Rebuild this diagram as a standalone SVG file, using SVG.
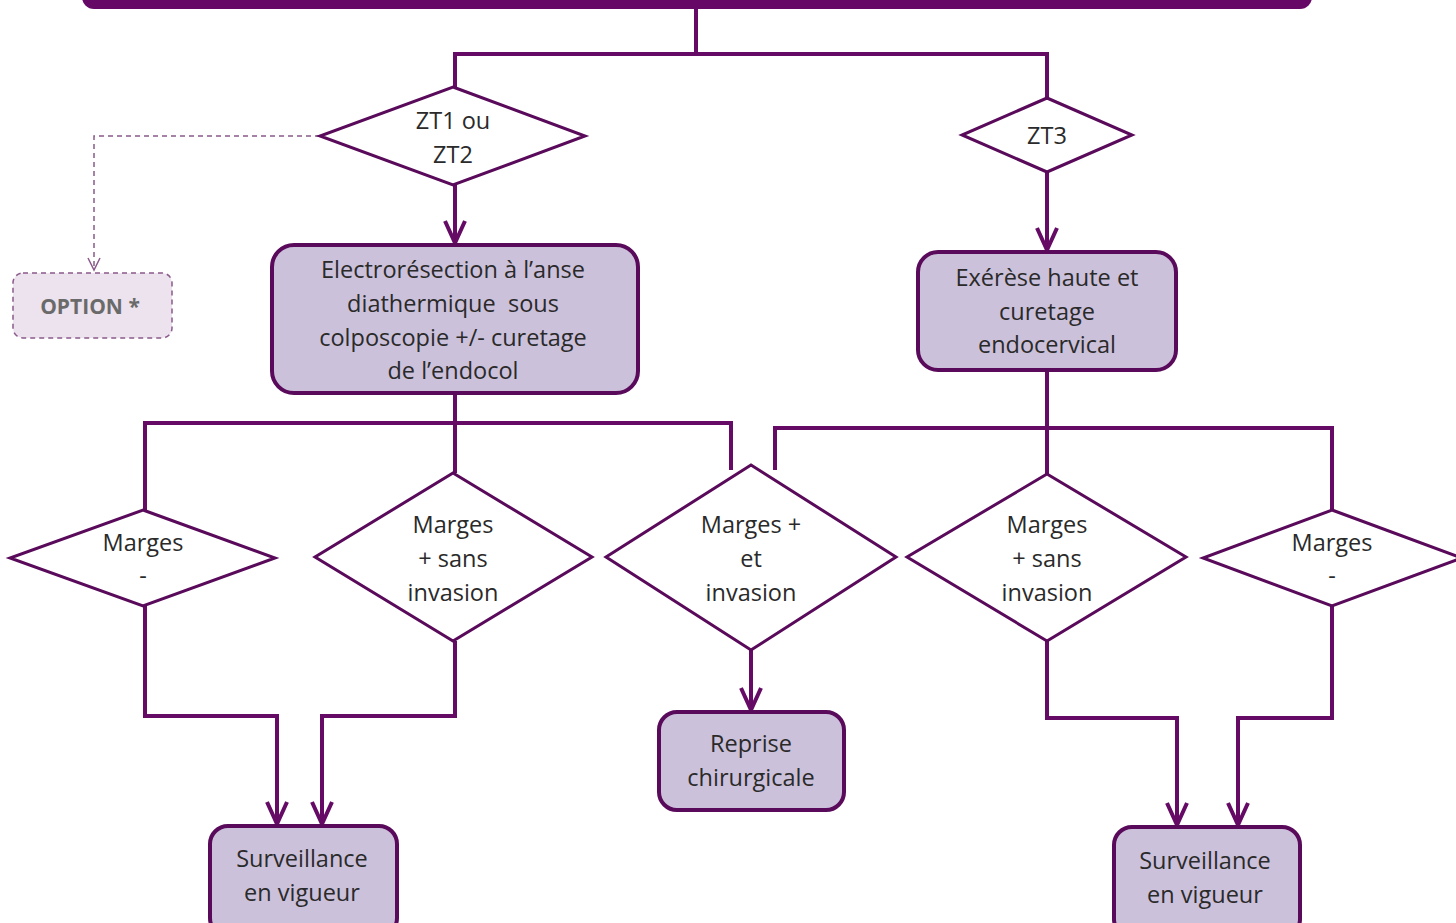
<svg xmlns="http://www.w3.org/2000/svg" width="1456" height="923" viewBox="0 0 1456 923">
<defs>
<style>
.ln{fill:none;stroke:#650a65;stroke-width:4;stroke-linejoin:miter}
.dia{fill:#fff;stroke:#5a0a5a;stroke-width:3}
.box{fill:#ccc1db;stroke:#5a0a5a;stroke-width:4}
.t{font-family:"Open Sans","Liberation Sans",sans-serif;font-size:23.5px;fill:#2a2a2a;text-anchor:middle}
.opt{font-family:"Open Sans","Liberation Sans",sans-serif;font-size:21px;font-weight:bold;fill:#6a6a6a;text-anchor:middle}
</style>
<marker id="arr" viewBox="-24 -14 28 28" refX="0" refY="0" markerWidth="28" markerHeight="28" markerUnits="userSpaceOnUse" orient="auto" overflow="visible">
<path d="M-22,-10 L0,0 L-22,10" fill="none" stroke="#650a65" stroke-width="4"/>
</marker>
<marker id="arrd" viewBox="-16 -10 20 20" refX="0" refY="0" markerWidth="20" markerHeight="20" markerUnits="userSpaceOnUse" orient="auto" overflow="visible">
<path d="M-12,-6 L0,0 L-12,6" fill="none" stroke="#8a5a8a" stroke-width="1.5"/>
</marker>
</defs>
<rect width="1456" height="923" fill="#fff"/>
<g id="header">
<rect x="82" y="-30" width="1230" height="39" rx="12" fill="#660866"/>
</g>
<g id="connectors">
<path class="ln" d="M696,9 V54 M455,54 H1047 M455,52 V88 M1047,52 V100"/>
<path class="ln" d="M455,185 V243" marker-end="url(#arr)"/>
<path class="ln" d="M1047,172 V250" marker-end="url(#arr)"/>
<path d="M320,136 H94 V270" fill="none" stroke="#8a5a8a" stroke-width="1.5" stroke-dasharray="5,4" marker-end="url(#arrd)"/>
<path class="ln" d="M455,393 V423 M145,423 H731 M145,421 V510 M455,421 V473 M731,421 V470"/>
<path class="ln" d="M1047,370 V428 M775,428 H1332 M775,426 V470 M1047,426 V474 M1332,426 V510"/>
<path class="ln" d="M145,606 V716 H277 V824" marker-end="url(#arr)"/>
<path class="ln" d="M455,641 V716 H322 V824" marker-end="url(#arr)"/>
<path class="ln" d="M751,650 V710" marker-end="url(#arr)"/>
<path class="ln" d="M1047,641 V718 H1177 V825" marker-end="url(#arr)"/>
<path class="ln" d="M1332,606 V718 H1238 V825" marker-end="url(#arr)"/>
</g>
<g id="zt12">
<polygon class="dia" points="453,87 585,136 453,185 320,136"/>
<text class="t" x="453" y="129">ZT1 ou</text>
<text class="t" x="453" y="163">ZT2</text>
</g>
<g id="zt3">
<polygon class="dia" points="1047,98 1132,135 1047,172 962,135"/>
<text class="t" x="1047" y="144">ZT3</text>
</g>
<g id="option">
<rect x="13" y="273" width="159" height="65" rx="10" fill="#ece3ee" stroke="#8a5a8a" stroke-width="1.5" stroke-dasharray="5,4"/>
<text class="opt" x="90" y="314">OPTION *</text>
</g>
<g id="electro">
<rect class="box" x="272" y="245" width="366" height="148" rx="22"/>
<text class="t" x="453" y="278">Electrorésection à l’anse</text>
<text class="t" x="453" y="312">diathermique&#160; sous</text>
<text class="t" x="453" y="346">colposcopie +/- curetage</text>
<text class="t" x="453" y="379">de l’endocol</text>
</g>
<g id="exerese">
<rect class="box" x="918" y="252" width="258" height="118" rx="20"/>
<text class="t" x="1047" y="286">Exérèse haute et</text>
<text class="t" x="1047" y="320">curetage</text>
<text class="t" x="1047" y="353">endocervical</text>
</g>
<g id="mm1">
<polygon class="dia" points="143,510 275,558 143,606 10,558"/>
<text class="t" x="143" y="551">Marges</text>
<text class="t" x="143" y="584">-</text>
</g>
<g id="msi1">
<polygon class="dia" points="453,473 592,557 453,641 315,557"/>
<text class="t" x="453" y="533">Marges</text>
<text class="t" x="453" y="567">+ sans</text>
<text class="t" x="453" y="601">invasion</text>
</g>
<g id="mei">
<polygon class="dia" points="751,465 896,557 751,650 606,557"/>
<text class="t" x="751" y="533">Marges +</text>
<text class="t" x="751" y="567">et</text>
<text class="t" x="751" y="601">invasion</text>
</g>
<g id="msi2">
<polygon class="dia" points="1047,474 1186,557 1047,641 907,557"/>
<text class="t" x="1047" y="533">Marges</text>
<text class="t" x="1047" y="567">+ sans</text>
<text class="t" x="1047" y="601">invasion</text>
</g>
<g id="mm2">
<polygon class="dia" points="1332,510 1462,558 1332,606 1203,558"/>
<text class="t" x="1332" y="551">Marges</text>
<text class="t" x="1332" y="584">-</text>
</g>
<g id="surv1">
<rect class="box" x="210" y="826" width="187" height="110" rx="18"/>
<text class="t" x="302" y="867">Surveillance</text>
<text class="t" x="302" y="901">en vigueur</text>
</g>
<g id="reprise">
<rect class="box" x="659" y="712" width="185" height="98" rx="18"/>
<text class="t" x="751" y="752">Reprise</text>
<text class="t" x="751" y="786">chirurgicale</text>
</g>
<g id="surv2">
<rect class="box" x="1114" y="827" width="186" height="110" rx="18"/>
<text class="t" x="1205" y="869">Surveillance</text>
<text class="t" x="1205" y="903">en vigueur</text>
</g>
</svg>
